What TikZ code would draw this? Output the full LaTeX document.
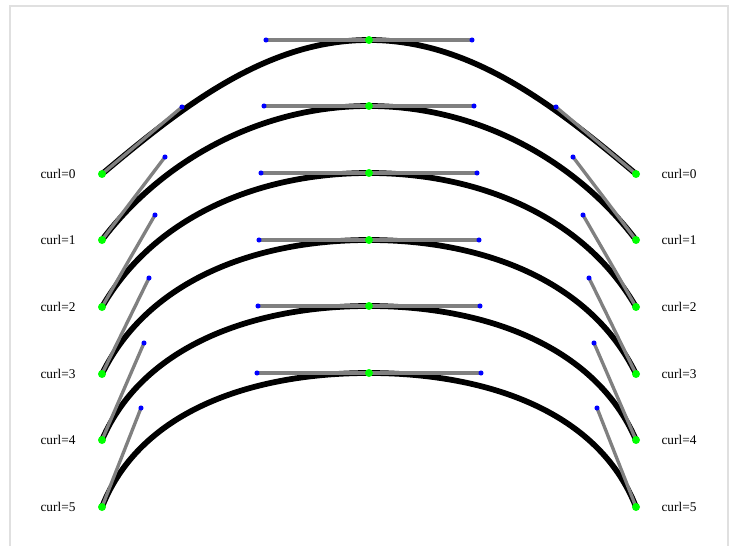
\documentclass[tikz,border=0pt]{standalone}
\usepackage{fontspec}
\setmainfont{Liberation Serif}
\usepackage{tikz}
\usetikzlibrary{positioning}

\begin{document}
\begin{tikzpicture}[
    x=0.75pt, y=-0.75pt,
    curve/.style={line width=4.3pt, black},
    handle/.style={line width=2.5pt, gray},
    knot/.style={circle, fill=green, inner sep=0pt, minimum size=6pt},
    ctrl/.style={circle, fill=blue, inner sep=0pt, minimum size=3.8pt},
    label/.style={font=\fontsize{10}{12}\selectfont}
]
\useasboundingbox (0,0) rectangle (730,545);
% frame
\draw[black!12, line width=1.5pt] (9.5,560) -- (9.5,6.5) -- (727.5,6.5) -- (727.5,560);

% one curve for each curl value
\foreach \k/\ey/\bx/\by/\hx in {0/174/182/107/266, 1/240/165/157/264,
    2/307/155/215/261, 3/374/149/278/259, 4/440/144/343/258, 5/507/141/408/257} {
  \pgfmathsetmacro{\my}{\ey-134}
  \pgfmathsetmacro{\rbx}{738-\bx}
  \pgfmathsetmacro{\rhx}{738-\hx}
  \coordinate (l\k) at (102,\ey);
  \coordinate (m\k) at (369,\my);
  \coordinate (r\k) at (636,\ey);
  \coordinate (lc\k) at (\bx,\by);
  \coordinate (ml\k) at (\hx,\my);
  \coordinate (mr\k) at (\rhx,\my);
  \coordinate (rc\k) at (\rbx,\by);
  % curve
  \draw[curve] (l\k) .. controls (lc\k) and (ml\k) .. (m\k)
               .. controls (mr\k) and (rc\k) .. (r\k);
  % handles
  \draw[handle] (l\k) -- (lc\k);
  \draw[handle] (ml\k) -- (mr\k);
  \draw[handle] (r\k) -- (rc\k);
  % points
  \node[ctrl] at (lc\k) {};
  \node[ctrl] at (ml\k) {};
  \node[ctrl] at (mr\k) {};
  \node[ctrl] at (rc\k) {};
  \node[knot] at (l\k) {};
  \node[knot] at (m\k) {};
  \node[knot] at (r\k) {};
  % labels
  \node[label] (tl\k) at (58,\ey) {curl=\k};
  \node[label] (tr\k) at (679,\ey) {curl=\k};
}
\end{tikzpicture}
\end{document}
